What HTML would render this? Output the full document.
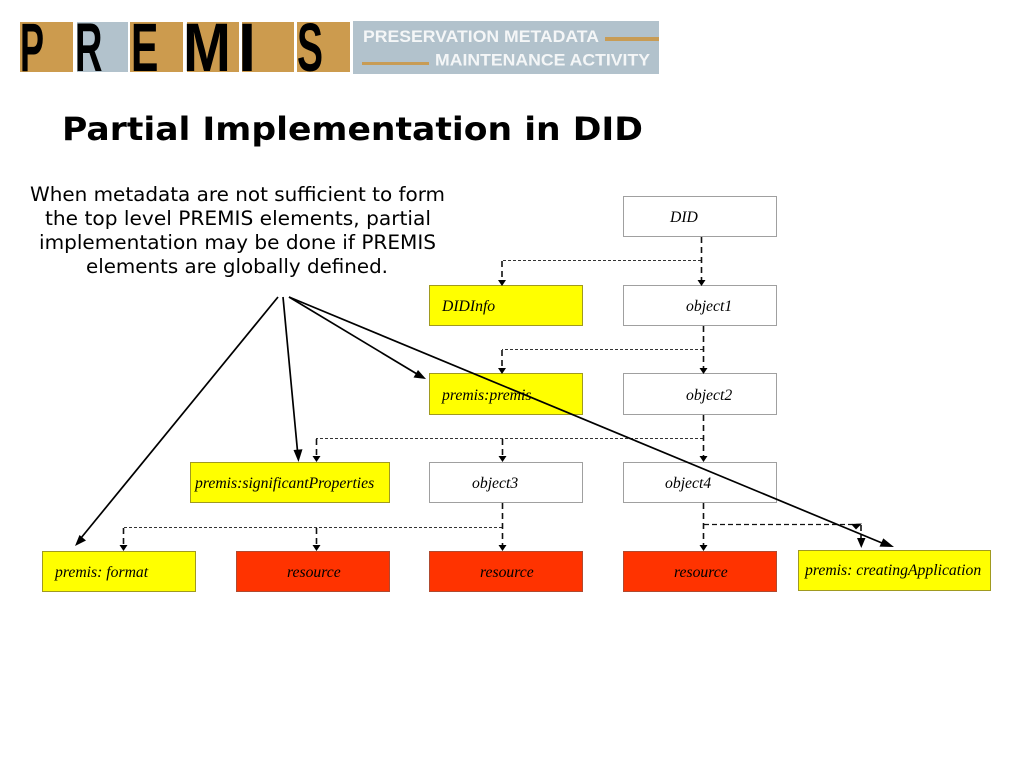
<!DOCTYPE html>
<html><head><meta charset="utf-8"><style>
html,body{margin:0;padding:0;background:#fff;width:1024px;height:768px;overflow:hidden}
svg{display:block}
.t{font-family:"Liberation Serif",serif;font-style:italic;font-size:15.7px;fill:#000}
.b{font-family:"DejaVu Sans",sans-serif;font-size:19.900px;fill:#000}
.l{font-family:"Liberation Sans",sans-serif;font-weight:bold;fill:#000}
.h{font-family:"Liberation Sans",sans-serif;font-weight:bold;font-size:16.5px;fill:#f4f6f7}
.w{fill:#fff;stroke:#a0a0a0;stroke-width:1}
.y{fill:#ffff00;stroke:#a09a20;stroke-width:1}
.r{fill:#ff3300;stroke:#b04a30;stroke-width:1}
.d{fill:none;stroke:#333;stroke-width:1;stroke-dasharray:3 2}
.v{fill:none;stroke:#111;stroke-width:1.6;stroke-dasharray:6 4}
.s{stroke:#000;stroke-width:1.7;fill:none}
</style></head><body>
<svg width="1024" height="768" viewBox="0 0 1024 768" xmlns="http://www.w3.org/2000/svg">
<!-- logo -->
<rect x="20" y="22" width="53" height="50" fill="#cc9b4e"/>
<rect x="77" y="22" width="51" height="50" fill="#b2c2cc"/>
<rect x="130" y="22" width="53" height="50" fill="#cc9b4e"/>
<rect x="187" y="22" width="52" height="50" fill="#cc9b4e"/>
<rect x="242" y="22" width="52" height="50" fill="#cc9b4e"/>
<rect x="297" y="22" width="53" height="50" fill="#cc9b4e"/>
<text class="l" font-size="50" transform="translate(20,71) scale(0.72,1.38)">P</text>
<text class="l" font-size="50" transform="translate(75,71) scale(0.76,1.38)">R</text>
<text class="l" font-size="50" transform="translate(131,71) scale(0.82,1.38)">E</text>
<text class="l" font-size="50" transform="translate(183,71) scale(1.15,1.38)">M</text>
<text class="l" font-size="50" transform="translate(238,71) scale(1.3,1.38)">I</text>
<text class="l" font-size="50" transform="translate(297,71) scale(0.78,1.38)">S</text>
<rect x="353" y="21" width="306" height="53" fill="#b2c2cc"/>
<text class="h" x="363" y="42" textLength="236" lengthAdjust="spacingAndGlyphs">PRESERVATION METADATA</text>
<text class="h" x="435" y="65.500" textLength="215" lengthAdjust="spacingAndGlyphs">MAINTENANCE ACTIVITY</text>
<rect x="605" y="37" width="54" height="4" fill="#c89c55"/>
<rect x="362" y="62" width="67" height="3" fill="#c89c55"/>
<!-- title -->
<text x="62" y="140" font-family="'DejaVu Sans',sans-serif" font-weight="bold" font-size="32" textLength="581" lengthAdjust="spacingAndGlyphs">Partial Implementation in DID</text>
<!-- body -->
<text class="b" x="30" y="201" textLength="415" lengthAdjust="spacingAndGlyphs">When metadata are not sufficient to form</text>
<text class="b" x="45" y="225" textLength="386" lengthAdjust="spacingAndGlyphs">the top level PREMIS elements, partial</text>
<text class="b" x="39" y="249" textLength="397" lengthAdjust="spacingAndGlyphs">implementation may be done if PREMIS</text>
<text class="b" x="86" y="273" textLength="302" lengthAdjust="spacingAndGlyphs">elements are globally defined.</text>
<!-- boxes -->
<rect class="w" x="623.500" y="196.500" width="153" height="40"/>
<rect class="y" x="429.500" y="285.500" width="153" height="40"/>
<rect class="w" x="623.500" y="285.500" width="153" height="40"/>
<rect class="y" x="429.500" y="373.500" width="153" height="41"/>
<rect class="w" x="623.500" y="373.500" width="153" height="41"/>
<rect class="y" x="190.500" y="462.500" width="199" height="40"/>
<rect class="w" x="429.500" y="462.500" width="153" height="40"/>
<rect class="w" x="623.500" y="462.500" width="153" height="40"/>
<rect class="y" x="42.500" y="551.500" width="153" height="40"/>
<rect class="r" x="236.500" y="551.500" width="153" height="40"/>
<rect class="r" x="429.500" y="551.500" width="153" height="40"/>
<rect class="r" x="623.500" y="551.500" width="153" height="40"/>
<rect class="y" x="798.500" y="550.500" width="192" height="40"/>
<!-- labels -->
<text class="t" x="670" y="222">DID</text>
<text class="t" x="442" y="311">DIDInfo</text>
<text class="t" x="686" y="311">object1</text>
<text class="t" x="442" y="400">premis:premis</text>
<text class="t" x="686" y="400">object2</text>
<text class="t" x="195" y="488">premis:significantProperties</text>
<text class="t" x="472" y="488">object3</text>
<text class="t" x="665" y="488">object4</text>
<text class="t" x="55" y="577">premis: format</text>
<text class="t" x="287" y="577">resource</text>
<text class="t" x="480" y="577">resource</text>
<text class="t" x="674" y="577">resource</text>
<text class="t" x="805" y="575">premis: creatingApplication</text>
<!-- dashed connectors -->
<path class="d" d="M701 260.500H502"/>
<path class="d" d="M703 349.500H502"/>
<path class="d" d="M703 438.500H316"/>
<path class="d" d="M502 527.500H123"/>
<path class="v" d="M701.500 237V280"/>
<path class="v" d="M502 261V280"/>
<path class="v" d="M703.500 326V369"/>
<path class="v" d="M502 350V369"/>
<path class="v" d="M703.500 415V458"/>
<path class="v" d="M502.500 439V458"/>
<path class="v" d="M316.500 439V458"/>
<path class="v" d="M502.500 503V547"/>
<path class="v" d="M316.500 528V547"/>
<path class="v" d="M123.500 528V547"/>
<path class="v" d="M703.500 503V547"/>
<path d="M704 524.500H860" fill="none" stroke="#111" stroke-width="1.200" stroke-dasharray="5 3"/>
<path class="v" d="M861 525V540"/>
<g fill="#000">
<path d="M498 280h8l-4 6z"/><path d="M697.500 280h8l-4 6z"/>
<path d="M498 368h8l-4 6z"/><path d="M699.500 368h8l-4 6z"/>
<path d="M498.500 456h8l-4 6z"/><path d="M312.500 456h8l-4 6z"/><path d="M699.500 456h8l-4 6z"/>
<path d="M498.500 545h8l-4 6z"/><path d="M312.500 545h8l-4 6z"/><path d="M119.500 545h8l-4 6z"/><path d="M699.500 545h8l-4 6z"/>
<path d="M857 538h8.500l-4.200 10z"/>
<path d="M851 524l11-.5-6 6z"/>
<!-- solid arrowheads -->
<path d="M75 546l4.500-11 6.500 5.500z"/>
<path d="M298.500 462l-5-12 9-.8z"/>
<path d="M426 379l-12.500-1.500 4.500-7.500z"/>
<path d="M894 547l-14.500-.4 3.800-8.200z"/>
</g>
<!-- solid arrows -->
<path class="s" d="M278 297L81 538"/>
<path class="s" d="M283 297L297.500 451"/>
<path class="s" d="M289 297L417 374"/>
<path class="s" d="M289 297L882 543"/>
</svg>
</body></html>
